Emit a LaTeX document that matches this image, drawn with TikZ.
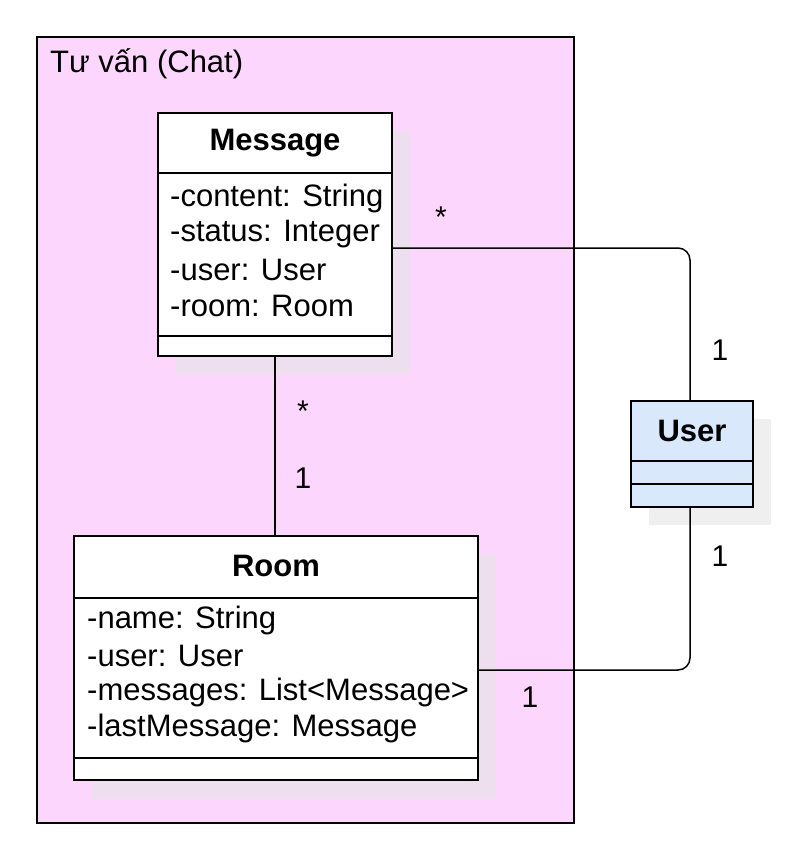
\documentclass[tikz,border=0pt]{standalone}
\usepackage{fontspec}
\setmainfont{Liberation Sans}
\begin{document}
\begin{tikzpicture}[x=1pt,y=-1pt,
  box/.style={draw=black,line width=1.5pt},
  shadow/.style={fill=black!10,draw=none,opacity=0.6},
  txt/.style={anchor=west,inner sep=0pt,font=\fontsize{31}{36}\selectfont},
  ttl/.style={inner sep=0pt,font=\bfseries\fontsize{31}{36}\selectfont},
  lbl/.style={inner sep=0pt,font=\fontsize{30}{36}\selectfont},
  conn/.style={line width=1.5pt,rounded corners=12pt}]
\useasboundingbox (0,0) rectangle (806,867);
\fill[white] (0,0) rectangle (806,867);
% package
\draw[box,fill={rgb,255:red,252;green,214;blue,252}] (37,37) rectangle (574,823);
\node[txt] (pkg) at (50,64) {Tư vấn (Chat)};
% shadows
\fill[shadow] (176,131) rectangle (410,374);
\fill[shadow] (92,554) rectangle (496,798);
\fill[shadow] (649,419) rectangle (771,525);
% Message
\draw[box,fill=white] (158,113) rectangle (392,356);
\draw[box] (158,173) -- (392,173);
\draw[box] (158,336) -- (392,336);
\node[ttl] (mt) at (275,143) {Message};
\node[txt] (m1) at (170,198) {-content: String};
\node[txt] (m2) at (170,234) {-status: Integer};
\node[txt] (m3) at (170,270) {-user: User};
\node[txt] (m4) at (170,306) {-room: Room};
\coordinate (mR) at (392,248);
\coordinate (mB) at (275,356);
% Room
\draw[box,fill=white] (74,536) rectangle (478,780);
\draw[box] (74,598) -- (478,598);
\draw[box] (74,758) -- (478,758);
\node[ttl] (rt) at (276,566) {Room};
\node[txt] (r1) at (87,620) {-name: String};
\node[txt] (r2) at (87,656) {-user: User};
\node[txt] (r3) at (87,692) {-messages: List<Message>};
\node[txt] (r4) at (87,728) {-lastMessage: Message};
\coordinate (rT) at (275,536);
\coordinate (rR) at (478,670);
% User
\draw[box,fill={rgb,255:red,218;green,232;blue,252}] (631,401) rectangle (753,507);
\draw[box] (631,461) -- (753,461);
\draw[box] (631,484) -- (753,484);
\node[ttl] (ut) at (692,431) {User};
\coordinate (uT) at (690,401);
\coordinate (uB) at (690,507);
% connectors
\draw[conn] (mR) -- (690,248) -- (uT);
\draw[conn] (mB) -- (rT);
\draw[conn] (uB) -- (690,670) -- (rR);
% multiplicities
\node[lbl] (a1) at (441,217) {*};
\node[lbl] (a2) at (720,350) {1};
\node[lbl] (a3) at (303,411) {*};
\node[lbl] (a4) at (303,478) {1};
\node[lbl] (a5) at (720,556) {1};
\node[lbl] (a6) at (530,697) {1};
\end{tikzpicture}
\end{document}
